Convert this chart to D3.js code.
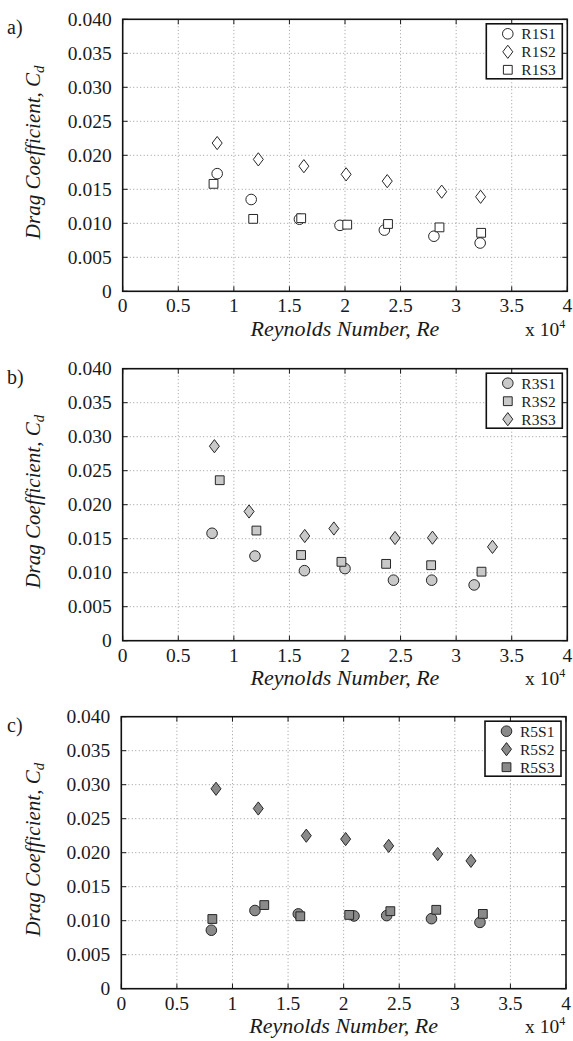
<!DOCTYPE html>
<html>
<head>
<meta charset="utf-8">
<script src="https://cdn.jsdelivr.net/npm/d3@7"></script>
<style>
  body { margin: 0; background: #fff; }
  svg text { font-family: "Times New Roman", "Liberation Serif", Times, serif; fill: #1a1a1a; }
  .tick-label { font-size: 19.5px; }
  .axis-title { font-size: 22px; font-style: italic; }
  .legend-text { font-size: 15.5px; }
  .grid { stroke: #9a9a9a; stroke-width: 1; stroke-dasharray: 1,2.5; }
</style>
</head>
<body>
<div id="chart"></div>
<script>
// ticks
const xTicks = [0, 0.5, 1, 1.5, 2, 2.5, 3, 3.5, 4];
const yTicks = [0, 0.005, 0.010, 0.015, 0.020, 0.025, 0.030, 0.035, 0.040];

// panel a) - Re in units of 1e4
const R1S1_x = [0.85, 1.156, 1.59, 1.955, 2.354, 2.80, 3.216];
const R1S1_y = [0.0173, 0.0135, 0.0106, 0.0097, 0.0090, 0.0081, 0.0071];
const R1S2_x = [0.85, 1.22, 1.63, 2.01, 2.38, 2.87, 3.22];
const R1S2_y = [0.0218, 0.0194, 0.0184, 0.0172, 0.0162, 0.01465, 0.0139];
const R1S3_x = [0.817, 1.174, 1.606, 2.02, 2.387, 2.85, 3.225];
const R1S3_y = [0.0158, 0.01065, 0.01075, 0.0098, 0.0099, 0.0094, 0.0086];

// panel b)
const R3S1_x = [0.804, 1.19, 1.635, 2.0, 2.436, 2.78, 3.162];
const R3S1_y = [0.0158, 0.01245, 0.0103, 0.0106, 0.0089, 0.0089, 0.0082];
const R3S2_x = [0.873, 1.203, 1.605, 1.968, 2.37, 2.775, 3.228];
const R3S2_y = [0.0236, 0.0162, 0.0126, 0.0116, 0.0113, 0.0111, 0.01015];
const R3S3_x = [0.825, 1.137, 1.638, 1.90, 2.45, 2.787, 3.327];
const R3S3_y = [0.0286, 0.0190, 0.0154, 0.0165, 0.0151, 0.01515, 0.0138];

// panel c)
const R5S1_x = [0.81, 1.202, 1.592, 2.093, 2.387, 2.79, 3.226];
const R5S1_y = [0.0086, 0.0115, 0.0110, 0.0107, 0.01075, 0.0103, 0.00975];
const R5S2_x = [0.852, 1.232, 1.664, 2.018, 2.405, 2.846, 3.145];
const R5S2_y = [0.0294, 0.0265, 0.0225, 0.0220, 0.0210, 0.0198, 0.0188];
const R5S3_x = [0.819, 1.286, 1.61, 2.05, 2.42, 2.833, 3.252];
const R5S3_y = [0.01025, 0.0123, 0.01065, 0.01085, 0.0114, 0.0116, 0.0110];

const panels = [
  { tag: "a)", top: 19.3, left: 122.7, right: 567.3, fill: "#ffffff", titleGap: 45,
    series: [
      { name: "R1S1", shape: "circle", x: R1S1_x, y: R1S1_y },
      { name: "R1S2", shape: "diamond", x: R1S2_x, y: R1S2_y },
      { name: "R1S3", shape: "square", x: R1S3_x, y: R1S3_y }
    ] },
  { tag: "b)", top: 368.7, left: 122.7, right: 567.3, fill: "#c9c9c9", titleGap: 44,
    series: [
      { name: "R3S1", shape: "circle", x: R3S1_x, y: R3S1_y },
      { name: "R3S2", shape: "square", x: R3S2_x, y: R3S2_y },
      { name: "R3S3", shape: "diamond", x: R3S3_x, y: R3S3_y }
    ] },
  { tag: "c)", top: 716.7, left: 121.3, right: 566, fill: "#8a8a8a", titleGap: 44,
    series: [
      { name: "R5S1", shape: "circle", x: R5S1_x, y: R5S1_y },
      { name: "R5S2", shape: "diamond", x: R5S2_x, y: R5S2_y },
      { name: "R5S3", shape: "square", x: R5S3_x, y: R5S3_y }
    ] }
];

const plotH = 272;

const markerPath = (shape) => {
  if (shape === "circle") return "M5.3,0A5.3,5.3 0 1,1 -5.3,0A5.3,5.3 0 1,1 5.3,0Z";
  if (shape === "diamond") return "M0,-6.6L5,0L0,6.6L-5,0Z";
  return "M-4.4,-4.4L4.4,-4.4L4.4,4.4L-4.4,4.4Z";
};

const svg = d3.select("#chart")
  .append("svg")
  .attr("width", 573)
  .attr("height", 1041)
  .attr("font-family", "'Times New Roman', 'Liberation Serif', serif");

panels.forEach((p) => {
  const x = d3.scaleLinear().domain([0, 4]).range([p.left, p.right]);
  const y = d3.scaleLinear().domain([0, 0.04]).range([p.top + plotH, p.top]);
  const g = svg.append("g");

  // grid
  g.selectAll(".gx").data(xTicks.slice(1, -1)).enter().append("line")
    .attr("class", "grid")
    .attr("x1", d => x(d)).attr("x2", d => x(d))
    .attr("y1", p.top).attr("y2", p.top + plotH);
  g.selectAll(".gy").data(yTicks.slice(1, -1)).enter().append("line")
    .attr("class", "grid")
    .attr("x1", p.left).attr("x2", p.right)
    .attr("y1", d => y(d)).attr("y2", d => y(d));

  // inward ticks, all four sides (matlab style)
  const ax = g.append("g").attr("stroke", "#1a1a1a").attr("stroke-width", 1);
  xTicks.forEach(t => {
    ax.append("line").attr("x1", x(t)).attr("x2", x(t)).attr("y1", p.top + plotH).attr("y2", p.top + plotH - 5);
    ax.append("line").attr("x1", x(t)).attr("x2", x(t)).attr("y1", p.top).attr("y2", p.top + 5);
  });
  yTicks.forEach(t => {
    ax.append("line").attr("x1", p.left).attr("x2", p.left + 5).attr("y1", y(t)).attr("y2", y(t));
    ax.append("line").attr("x1", p.right).attr("x2", p.right - 5).attr("y1", y(t)).attr("y2", y(t));
  });

  // frame
  g.append("rect")
    .attr("x", p.left).attr("y", p.top)
    .attr("width", p.right - p.left).attr("height", plotH)
    .attr("fill", "none").attr("stroke", "#111").attr("stroke-width", 1.6);

  // tick labels
  g.selectAll(".xl").data(xTicks).enter().append("text")
    .attr("class", "tick-label")
    .attr("x", d => x(d)).attr("y", p.top + plotH + 21)
    .attr("text-anchor", "middle")
    .text(d => d3.format("")(d));
  g.selectAll(".yl").data(yTicks).enter().append("text")
    .attr("class", "tick-label")
    .attr("x", p.left - 11).attr("y", d => y(d) + 6.5)
    .attr("text-anchor", "end")
    .text(d => d === 0 ? "0" : d3.format(".3f")(d));

  // axis titles
  g.append("text").attr("class", "axis-title")
    .attr("x", (p.left + p.right) / 2).attr("y", p.top + plotH + p.titleGap)
    .attr("text-anchor", "middle")
    .text("Reynolds Number, Re");
  const sc = g.append("text").attr("class", "tick-label")
    .attr("x", 525).attr("y", p.top + plotH + p.titleGap);
  sc.append("tspan").text("x 10");
  sc.append("tspan").attr("dy", -8).attr("font-size", 12).text("4");

  const yt = g.append("text").attr("class", "axis-title")
    .style("font-size", "21px")
    .attr("transform", "translate(40," + (p.top + plotH / 2 - 3) + ") rotate(-90)")
    .attr("text-anchor", "middle");
  yt.append("tspan").text("Drag Coefficient, C");
  yt.append("tspan").attr("dy", 4).attr("font-size", 15).text("d");

  // panel tag
  g.append("text").attr("class", "tick-label")
    .style("font-size", "20px")
    .attr("x", 7).attr("y", p.top + 15)
    .text(p.tag);

  // markers
  p.series.forEach(s => {
    g.selectAll(null).data(s.x.map((v, i) => [v, s.y[i]])).enter().append("path")
      .attr("d", markerPath(s.shape))
      .attr("transform", d => "translate(" + x(d[0]) + "," + y(d[1]) + ")")
      .attr("fill", p.fill)
      .attr("stroke", "#262626")
      .attr("stroke-width", 1);
  });

  // legend
  const lx = p.right - 81, ly = p.top + 4.5;
  g.append("rect")
    .attr("x", lx).attr("y", ly).attr("width", 76).attr("height", 55)
    .attr("fill", "#fff").attr("stroke", "#111").attr("stroke-width", 1.6);
  p.series.forEach((s, i) => {
    const yy = ly + 10 + i * 18;
    g.append("path")
      .attr("d", markerPath(s.shape))
      .attr("transform", "translate(" + (lx + 21.5) + "," + yy + ")")
      .attr("fill", p.fill).attr("stroke", "#262626").attr("stroke-width", 1);
    g.append("text").attr("class", "legend-text")
      .attr("x", lx + 35).attr("y", yy + 5.5)
      .text(s.name);
  });
});
</script>
</body>
</html>
